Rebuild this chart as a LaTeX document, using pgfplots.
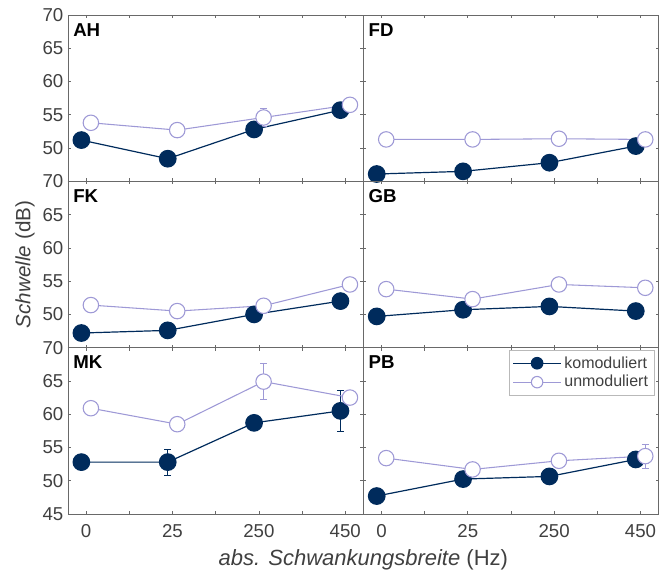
\documentclass[border=0pt]{standalone}
\usepackage{fontspec}
\setmainfont{Liberation Sans}
\usepackage{pgfplots}
\pgfplotsset{compat=1.18}

\definecolor{komod}{RGB}{0,43,92}
\definecolor{unmod}{RGB}{158,153,214}
\definecolor{framec}{RGB}{105,105,105}
\definecolor{txt}{RGB}{64,64,64}

\tikzset{
  plab/.style={anchor=north west, inner sep=0pt, xshift=3.75pt, yshift=-6pt,
    font=\fontsize{14}{16}\selectfont\bfseries},
}

\pgfplotsset{
  panel/.style={
    scale only axis, width=221.5pt, height=124.75pt,
    anchor=north west,
    xmin=0.79, xmax=4.21, ymin=45, ymax=70,
    xtick={1,2,3,4}, minor xtick={1.5,2.5,3.5},
    ytick={45,50,...,70},
    tick align=inside,
    major tick length=2.2pt, minor tick length=2.2pt,
    axis line style={framec, line width=0.6pt},
    every tick/.style={framec, line width=0.5pt},
    clip=false,
    tick label style={font=\fontsize{14}{16}\selectfont, text=txt},
    xticklabel style={yshift=-4.5pt},
    /pgf/number format/assume math mode=true,
    xticklabels={},
    yticklabels={},
  },
  komodplot/.style={color=komod, line width=0.9pt, mark=*, mark size=6.2pt,
    mark options={solid, fill=komod}},
  unmodplot/.style={color=unmod, line width=0.8pt, mark=*, mark size=5.8pt,
    mark options={solid, fill=white, draw=unmod, line width=0.8pt}},
  errk/.style={forget plot, draw=none, mark=none,
    error bars/.cd, y dir=both, y explicit,
    error bar style={draw=komod, line width=0.8pt},
    error mark options={draw=komod, rotate=90, mark size=2.6pt, line width=0.8pt}},
  erru/.style={forget plot, draw=none, mark=none,
    error bars/.cd, y dir=both, y explicit,
    error bar style={draw=unmod, line width=0.8pt},
    error mark options={draw=unmod, rotate=90, mark size=2.6pt, line width=0.8pt}},
}

\begin{document}
\begin{tikzpicture}
\path[use as bounding box] (0,0) rectangle (504pt,-432pt);

% AH
\begin{axis}[panel, at={(51pt,-11.25pt)}, yticklabels={,50,55,60,65,70}]
  \addplot[komodplot] coordinates {(0.945,51.2) (1.945,48.4) (2.945,52.8) (3.945,55.7)};
  \addplot[errk] coordinates {(0.945,51.2) +- (0,0.4) (1.945,48.4) +- (0,0.4) (2.945,52.8) +- (0,0.4) (3.945,55.7) +- (0,0.4)};
  \addplot[unmodplot] coordinates {(1.055,53.8) (2.055,52.7) (3.055,54.6) (4.055,56.5)};
  \addplot[erru] coordinates {(1.055,53.8) +- (0,0.6) (2.055,52.7) +- (0,0.3) (3.055,54.6) +- (0,1.3) (4.055,56.5) +- (0,0.7)};
  \node[plab] at (rel axis cs:0,1) {AH};
\end{axis}

% FD
\begin{axis}[panel, at={(272.5pt,-11.25pt)}]
  \addplot[komodplot] coordinates {(0.945,46.1) (1.945,46.5) (2.945,47.8) (3.945,50.3)};
  \addplot[errk] coordinates {(0.945,46.1) +- (0,0.3) (1.945,46.5) +- (0,0.3) (2.945,47.8) +- (0,0.3) (3.945,50.3) +- (0,0.3)};
  \addplot[unmodplot] coordinates {(1.055,51.3) (2.055,51.3) (3.055,51.4) (4.055,51.3)};
  \addplot[erru] coordinates {(1.055,51.3) +- (0,0.6) (2.055,51.3) +- (0,0.6) (3.055,51.4) +- (0,0.6) (4.055,51.3) +- (0,0.3)};
  \node[plab] at (rel axis cs:0,1) {FD};
\end{axis}

% FK
\begin{axis}[panel, at={(51pt,-136pt)}, yticklabels={,50,55,60,65,70}]
  \addplot[komodplot] coordinates {(0.945,47.2) (1.945,47.6) (2.945,50.0) (3.945,52.0)};
  \addplot[errk] coordinates {(0.945,47.2) +- (0,0.3) (1.945,47.6) +- (0,0.3) (2.945,50.0) +- (0,0.3) (3.945,52.0) +- (0,0.9)};
  \addplot[unmodplot] coordinates {(1.055,51.4) (2.055,50.5) (3.055,51.3) (4.055,54.5)};
  \addplot[erru] coordinates {(1.055,51.4) +- (0,0.6) (2.055,50.5) +- (0,0.3) (3.055,51.3) +- (0,0.3) (4.055,54.5) +- (0,0.6)};
  \node[plab] at (rel axis cs:0,1) {FK};
\end{axis}

% GB
\begin{axis}[panel, at={(272.5pt,-136pt)}]
  \addplot[komodplot] coordinates {(0.945,49.7) (1.945,50.7) (2.945,51.2) (3.945,50.5)};
  \addplot[errk] coordinates {(0.945,49.7) +- (0,0.3) (1.945,50.7) +- (0,0.3) (2.945,51.2) +- (0,0.3) (3.945,50.5) +- (0,0.9)};
  \addplot[unmodplot] coordinates {(1.055,53.8) (2.055,52.3) (3.055,54.5) (4.055,54.0)};
  \addplot[erru] coordinates {(1.055,53.8) +- (0,0.5) (2.055,52.3) +- (0,0.3) (3.055,54.5) +- (0,0.8) (4.055,54.0) +- (0,0.8)};
  \node[plab] at (rel axis cs:0,1) {GB};
\end{axis}

% MK
\begin{axis}[panel, at={(51pt,-260.75pt)}, yticklabels={45,50,55,60,65,70}, xticklabels={0,25,250,450}]
  \addplot[komodplot] coordinates {(0.945,52.8) (1.945,52.8) (2.945,58.7) (3.945,60.5)};
  \addplot[errk] coordinates {(0.945,52.8) +- (0,0.3) (1.945,52.8) +- (0,1.95) (2.945,58.7) +- (0,0.3) (3.945,60.5) +- (0,3.05)};
  \addplot[unmodplot] coordinates {(1.055,60.9) (2.055,58.5) (3.055,64.9) (4.055,62.5)};
  \addplot[erru] coordinates {(1.055,60.9) +- (0,0.5) (2.055,58.5) +- (0,0.5) (3.055,64.9) +- (0,2.75) (4.055,62.5) +- (0,1.0)};
  \node[plab] at (rel axis cs:0,1) {MK};
\end{axis}

% PB
\begin{axis}[panel, at={(272.5pt,-260.75pt)}, xticklabels={0,25,250,450},
  legend style={at={(0.985,0.985)}, anchor=north east, draw=gray!55,
    font=\fontsize{12}{14}\selectfont, text=txt, inner sep=2.5pt,
    row sep=0pt},
  legend cell align=left,
  legend image code/.code={\draw[mark repeat=2, mark phase=2, #1, mark size=4.3pt]
    plot coordinates {(0pt,0pt) (18pt,0pt) (36pt,0pt)};}]
  \addplot[komodplot] coordinates {(0.945,47.7) (1.945,50.25) (2.945,50.65) (3.945,53.2)};
  \addlegendentry{komoduliert}
  \addplot[errk] coordinates {(0.945,47.7) +- (0,0.3) (1.945,50.25) +- (0,0.3) (2.945,50.65) +- (0,0.3) (3.945,53.2) +- (0,1.0)};
  \addplot[unmodplot] coordinates {(1.055,53.4) (2.055,51.7) (3.055,53.0) (4.055,53.7)};
  \addlegendentry{unmoduliert}
  \addplot[erru] coordinates {(1.055,53.4) +- (0,0.4) (2.055,51.7) +- (0,0.5) (3.055,53.0) +- (0,0.3) (4.055,53.7) +- (0,1.8)};
  \node[plab] at (rel axis cs:0,1) {PB};
\end{axis}

\node[rotate=90, text=txt, font=\fontsize{15.5}{18}\selectfont] at (18.75pt,-198.4pt) {\textit{Schwelle} (dB)};
\node[text=txt, font=\fontsize{16.5}{19}\selectfont] at (272.5pt,-420pt) {\textit{abs. Schwankungsbreite} (Hz)};
\end{tikzpicture}
\end{document}
